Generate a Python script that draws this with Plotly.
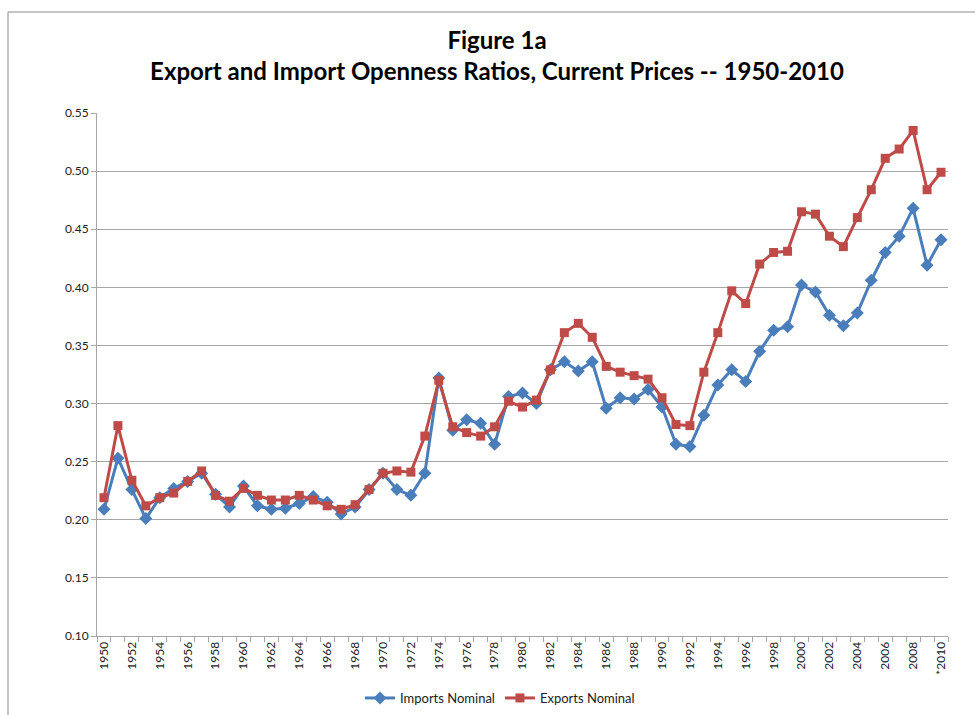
import plotly.graph_objects as go

years = list(range(1950, 2011))

imports_nominal = [
    0.209, 0.253, 0.226, 0.201, 0.219, 0.227, 0.233, 0.240, 0.222, 0.211,
    0.229, 0.212, 0.209, 0.210, 0.214, 0.220, 0.215, 0.205, 0.211, 0.226,
    0.240, 0.226, 0.221, 0.240, 0.322, 0.277, 0.286, 0.283, 0.265, 0.306,
    0.309, 0.300, 0.329, 0.336, 0.328, 0.336, 0.296, 0.305, 0.304, 0.312,
    0.297, 0.265, 0.263, 0.290, 0.316, 0.329, 0.319, 0.345, 0.363, 0.366,
    0.402, 0.396, 0.376, 0.367, 0.378, 0.406, 0.430, 0.444, 0.468, 0.419,
    0.441,
]

exports_nominal = [
    0.219, 0.281, 0.234, 0.212, 0.219, 0.223, 0.233, 0.242, 0.221, 0.216,
    0.227, 0.221, 0.217, 0.217, 0.221, 0.217, 0.212, 0.209, 0.213, 0.226,
    0.240, 0.242, 0.241, 0.272, 0.320, 0.280, 0.275, 0.272, 0.280, 0.302,
    0.297, 0.303, 0.329, 0.361, 0.369, 0.357, 0.332, 0.327, 0.324, 0.321,
    0.305, 0.282, 0.281, 0.327, 0.361, 0.397, 0.386, 0.420, 0.430, 0.431,
    0.465, 0.463, 0.444, 0.435, 0.460, 0.484, 0.511, 0.519, 0.535, 0.484,
    0.499,
]

tick_years = list(range(1950, 2011, 2))
tick_labels = [str(y) for y in tick_years[:-1]] + ["*2010"]

BLUE = "#4a7ebb"
RED = "#be4b48"
GRID = "#a6a6a6"
FONT = "Lato"

fig = go.Figure()
fig.add_trace(go.Scatter(
    x=years, y=imports_nominal, name="Imports Nominal", mode="lines+markers",
    line=dict(color=BLUE, width=3),
    marker=dict(symbol="diamond", size=10, color=BLUE),
))
fig.add_trace(go.Scatter(
    x=years, y=exports_nominal, name="Exports Nominal", mode="lines+markers",
    line=dict(color=RED, width=3),
    marker=dict(symbol="square", size=9, color=RED),
))

L, R, T, B = 97, 27, 113, 79
W, H = 975, 715
pw, ph = W - L - R, H - T - B

def px_x(p):
    return (p - L) / pw

def px_y(p):
    return (H - B - p) / ph

fig.update_layout(
    width=W, height=H,
    margin=dict(l=L, r=R, t=T, b=B),
    paper_bgcolor="white", plot_bgcolor="white",
    font=dict(family=FONT, size=12, color="#222222"),
    title=dict(
        text="<b>Figure 1a<br>Export and Import Openness Ratios, Current Prices -- 1950-2010</b>",
        x=497 / W, xanchor="center", xref="container",
        y=1 - 49 / H, yanchor="middle", yref="container",
        font=dict(family=FONT, size=24, color="#000000"),
    ),
    xaxis=dict(
        range=[1949.5, 2010.5], tickmode="array", tickvals=tick_years, ticktext=tick_labels,
        tickangle=-90, ticks="", showgrid=False, zeroline=False, automargin=False,
        showline=True, linecolor=GRID, linewidth=1,
        tickfont=dict(family=FONT, size=12, color="#222222"),
        minor=dict(tick0=1949.5, dtick=1, ticks="outside", ticklen=5,
                   tickcolor=GRID, tickwidth=1, showgrid=False),
    ),
    yaxis=dict(
        range=[0.10, 0.55], dtick=0.05, tick0=0.10, tickformat=".2f",
        showgrid=True, gridcolor=GRID, gridwidth=1, zeroline=False, automargin=False,
        showline=True, linecolor=GRID, linewidth=1,
        ticks="outside", ticklen=5, tickcolor=GRID,
        tickfont=dict(family=FONT, size=12, color="#222222"),
    ),
    legend=dict(
        orientation="h", xref="container", x=500 / W, xanchor="center",
        yref="container", y=1 - 698 / H, yanchor="middle",
        font=dict(family=FONT, size=13, color="#222222"), bgcolor="rgba(0,0,0,0)",
    ),
    shapes=[
        dict(type="line", xref="paper", yref="paper",
             x0=px_x(8), x1=px_x(W + 5), y0=px_y(12), y1=px_y(12),
             line=dict(color="#8c8c8c", width=1)),
        dict(type="line", xref="paper", yref="paper",
             x0=px_x(8), x1=px_x(8), y0=px_y(12), y1=px_y(H + 5),
             line=dict(color="#8c8c8c", width=1)),
    ],
)

fig.write_html("out.html", config={"displayModeBar": False},
               post_script="document.body.style.margin='0';")
